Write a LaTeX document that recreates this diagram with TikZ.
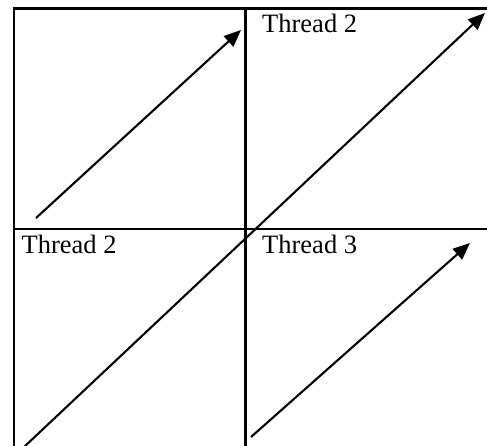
\documentclass[tikz,border=0pt]{standalone}
\usepackage{fontspec}
\setmainfont{Liberation Serif}
\usetikzlibrary{arrows.meta}
\begin{document}
\begin{tikzpicture}[x=1pt,y=-1pt,
  gridline/.style={line width=2.2pt, line cap=butt},
  flow/.style={line width=2.1pt, -{Triangle[length=17pt,width=14pt]}},
  lbl/.style={anchor=base west, inner sep=0pt, font=\fontsize{26.5}{30}\selectfont}]
\useasboundingbox (0,0) rectangle (487,446);
% grid
\coordinate (tl) at (14,8.5);
\coordinate (tr) at (487,8.5);
\coordinate (bl) at (14,446);
\coordinate (mt) at (245.5,8.5);
\coordinate (mb) at (245.5,446);
\coordinate (ml) at (14,229);
\coordinate (mr) at (487,229);
\draw[gridline] (12.9,8.5) -- (tr);
\draw[gridline] (tl) -- (bl);
\draw[gridline] (mt) -- (mb);
\draw[gridline] (ml) -- (mr);
% arrows
\coordinate (a1s) at (36,218);
\coordinate (a1e) at (241,30);
\coordinate (a2s) at (24,447);
\coordinate (a2e) at (485,13);
\coordinate (a3s) at (251,437);
\coordinate (a3e) at (470,243);
\draw[flow] (a1s) -- (a1e);
\draw[flow] (a2s) -- (a2e);
\draw[flow] (a3s) -- (a3e);
% labels
\node[lbl] (t1) at (262,33) {Thread 2};
\node[lbl] (t2) at (21.5,254) {Thread 2};
\node[lbl] (t3) at (262,254) {Thread 3};
\end{tikzpicture}
\end{document}
